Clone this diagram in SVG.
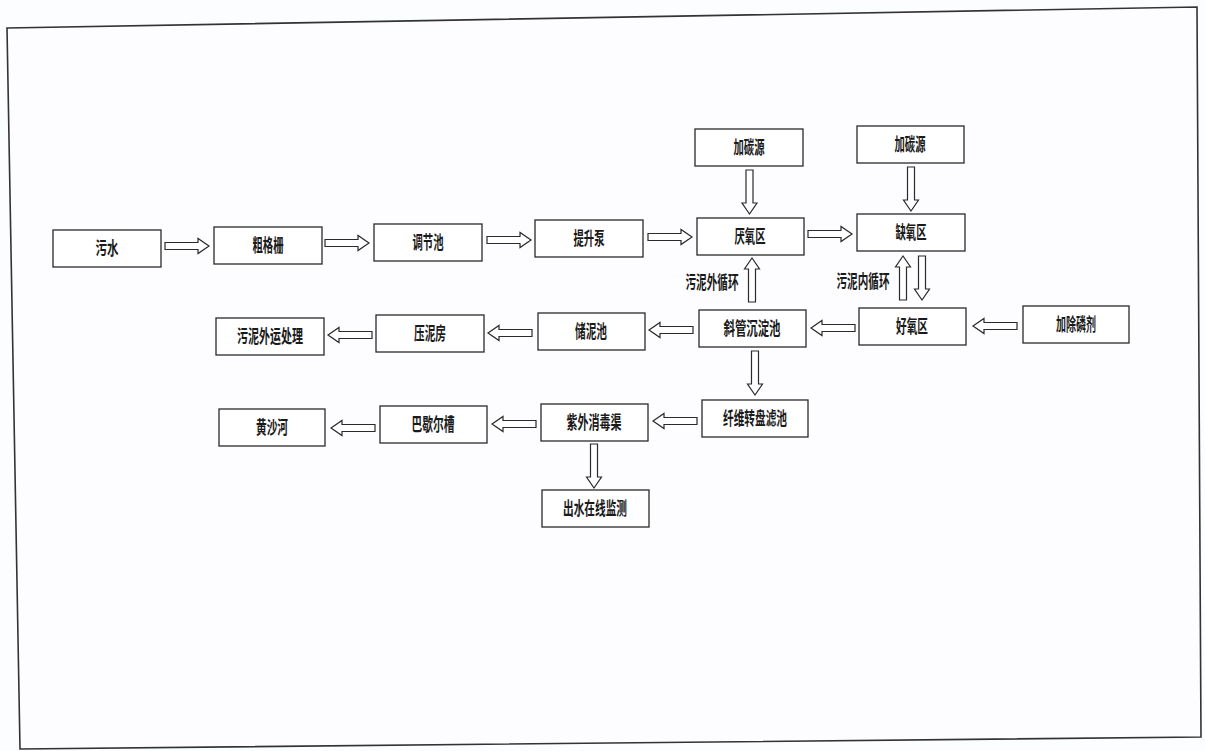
<svg xmlns="http://www.w3.org/2000/svg" xmlns:xlink="http://www.w3.org/1999/xlink" width="1205" height="751" viewBox="0 0 1205 751">
<style>
.bx{fill:#fff;stroke:#2a2a2a;stroke-width:1.3}
.t{font-family:"Noto Sans CJK SC","Noto Sans CJK JP",sans-serif;font-size:18px;font-weight:bold;fill:#1a1a1a;text-anchor:middle}
.ar{fill:#fff;stroke:#2a2a2a;stroke-width:1.2;stroke-linejoin:miter}
</style>
<defs>
<path id="ar" class="ar" d="M0,-3.5 H33 V-7.5 L44,0 L33,7.5 V3.5 H0 Z"/>
</defs>
<rect x="0" y="0" width="1205" height="751" fill="#fcfdff"/>
<polygon points="7,28 1197,7 1201,737 20,749" fill="#fdfdff" stroke="#333" stroke-width="1.6"/>

<g id="connectors">
<use href="#ar" transform="translate(165,246)"/>
<use href="#ar" transform="translate(325,243)"/>
<use href="#ar" transform="translate(487,240)"/>
<use href="#ar" transform="translate(648,237)"/>
<use href="#ar" transform="translate(808,234)"/>
<use href="#ar" transform="translate(372,335) rotate(180)"/>
<use href="#ar" transform="translate(532,333) rotate(180)"/>
<use href="#ar" transform="translate(693,330) rotate(180)"/>
<use href="#ar" transform="translate(855,328) rotate(180)"/>
<use href="#ar" transform="translate(1017,326) rotate(180)"/>
<use href="#ar" transform="translate(375,428) rotate(180)"/>
<use href="#ar" transform="translate(536,424) rotate(180)"/>
<use href="#ar" transform="translate(697,421) rotate(180)"/>
<use href="#ar" transform="translate(749.5,170) rotate(90)"/>
<use href="#ar" transform="translate(911,167) rotate(90)"/>
<use href="#ar" transform="translate(752,302) rotate(-90)"/>
<use href="#ar" transform="translate(903,300) rotate(-90)"/>
<use href="#ar" transform="translate(922,256) rotate(90)"/>
<use href="#ar" transform="translate(755,351) rotate(90)"/>
<use href="#ar" transform="translate(594,444) rotate(90)"/>
<text class="t" x="712" y="289" textLength="53" lengthAdjust="spacingAndGlyphs">污泥外循环</text>
<text class="t" x="863" y="288" textLength="53" lengthAdjust="spacingAndGlyphs">污泥内循环</text>
</g>

<g id="n1"><rect class="bx" x="53" y="230" width="108" height="37"/><text class="t" x="107" y="254.5" textLength="23" lengthAdjust="spacingAndGlyphs">污水</text></g>
<g id="n2"><rect class="bx" x="214" y="227" width="108" height="37"/><text class="t" x="268" y="251.5" textLength="31" lengthAdjust="spacingAndGlyphs">粗格栅</text></g>
<g id="n3"><rect class="bx" x="374" y="224" width="108" height="37"/><text class="t" x="428" y="248.5" textLength="31" lengthAdjust="spacingAndGlyphs">调节池</text></g>
<g id="n4"><rect class="bx" x="535" y="220" width="108" height="37"/><text class="t" x="589" y="244.5" textLength="31" lengthAdjust="spacingAndGlyphs">提升泵</text></g>
<g id="n5"><rect class="bx" x="697" y="218" width="107" height="37"/><text class="t" x="750" y="242.5" textLength="31" lengthAdjust="spacingAndGlyphs">厌氧区</text></g>
<g id="n6"><rect class="bx" x="857" y="214" width="108" height="37"/><text class="t" x="911" y="238.5" textLength="31" lengthAdjust="spacingAndGlyphs">缺氧区</text></g>
<g id="n7"><rect class="bx" x="695" y="129" width="108" height="37"/><text class="t" x="749" y="153.5" textLength="31" lengthAdjust="spacingAndGlyphs">加碳源</text></g>
<g id="n8"><rect class="bx" x="857" y="126" width="107" height="37"/><text class="t" x="910" y="150.5" textLength="31" lengthAdjust="spacingAndGlyphs">加碳源</text></g>
<g id="n9"><rect class="bx" x="216" y="318" width="108" height="37"/><text class="t" x="270" y="342.5" textLength="66" lengthAdjust="spacingAndGlyphs">污泥外运处理</text></g>
<g id="n10"><rect class="bx" x="376" y="315" width="108" height="37"/><text class="t" x="430" y="339.5" textLength="32" lengthAdjust="spacingAndGlyphs">压泥房</text></g>
<g id="n11"><rect class="bx" x="538" y="313" width="107" height="37"/><text class="t" x="591" y="337.5" textLength="32" lengthAdjust="spacingAndGlyphs">储泥池</text></g>
<g id="n12"><rect class="bx" x="699" y="310" width="107" height="37"/><text class="t" x="752" y="334.5" textLength="57" lengthAdjust="spacingAndGlyphs">斜管沉淀池</text></g>
<g id="n13"><rect class="bx" x="859" y="308" width="107" height="37"/><text class="t" x="912" y="332.5" textLength="32" lengthAdjust="spacingAndGlyphs">好氧区</text></g>
<g id="n14"><rect class="bx" x="1023" y="306" width="106" height="37"/><text class="t" x="1076" y="330.5" textLength="40" lengthAdjust="spacingAndGlyphs">加除磷剂</text></g>
<g id="n15"><rect class="bx" x="219" y="409" width="106" height="37"/><text class="t" x="272" y="433.5" textLength="32" lengthAdjust="spacingAndGlyphs">黄沙河</text></g>
<g id="n16"><rect class="bx" x="380" y="406" width="107" height="37"/><text class="t" x="433" y="430.5" textLength="43" lengthAdjust="spacingAndGlyphs">巴歇尔槽</text></g>
<g id="n17"><rect class="bx" x="541" y="404" width="107" height="37"/><text class="t" x="594" y="428.5" textLength="55" lengthAdjust="spacingAndGlyphs">紫外消毒渠</text></g>
<g id="n18"><rect class="bx" x="702" y="400" width="106" height="37"/><text class="t" x="755" y="424.5" textLength="64" lengthAdjust="spacingAndGlyphs">纤维转盘滤池</text></g>
<g id="n19"><rect class="bx" x="542" y="490" width="107" height="37"/><text class="t" x="595" y="514.5" textLength="64" lengthAdjust="spacingAndGlyphs">出水在线监测</text></g>
</svg>
